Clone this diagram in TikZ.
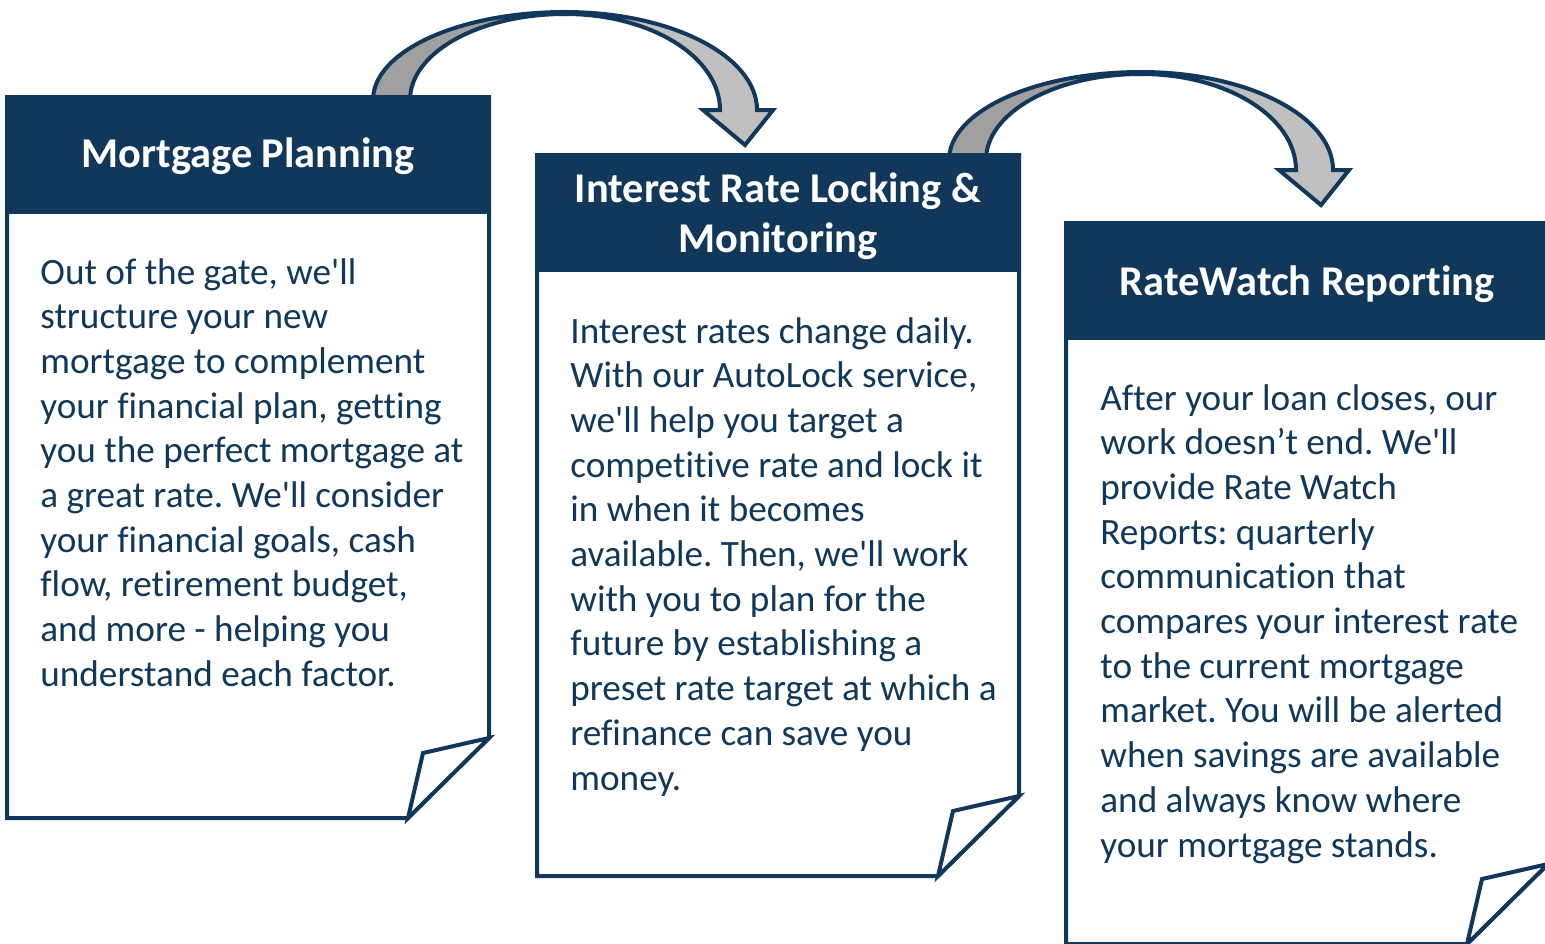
\documentclass[tikz,border=0pt]{standalone}
\usepackage{fontspec}
\newfontfamily\carl{Carlito}[Ligatures={NoCommon,NoRare,NoDiscretionary,NoContextual}]
\frenchspacing
\definecolor{navy}{RGB}{17,56,90}
\definecolor{darkband}{RGB}{160,160,160}
\definecolor{lightband}{RGB}{192,192,192}
\tikzset{
  outline/.style={draw=navy, line width=2pt, line join=miter},
  bodytext/.style={anchor=base west, inner sep=0pt, text=navy, font=\carl\fontsize{18.6}{22.35}\selectfont},
  headtext/.style={anchor=base, inner sep=0pt, text=white, font=\carl\bfseries\fontsize{21.2}{25}\selectfont},
}
\newcommand\paperbox[3]{%
  \begin{scope}[shift={(#2,#3)}]
    \path[outline, fill=white] (0,0) -- (482,0) -- (482,641) -- (401,721) -- (0,721) -- cycle;
    \path[outline, fill=white] (401,721) -- (416,656) -- (482,641) -- cycle;
    \path[outline, fill=navy] (0,0) rectangle (482,115);
    \coordinate (#1) at (0,0);
  \end{scope}}
\newcommand\bentarrow[3]{%
  \begin{scope}[shift={(#2,#3)}]
    \path[outline, fill=darkband] (373,106) -- (373,100) .. controls (373,51.4) and (459,12) .. (565,12)
      -- (565,14) .. controls (479.4,14) and (410,52.5) .. (410,100) -- (410,106) -- cycle;
    \path[outline, fill=lightband] (565,12) .. controls (671,12) and (757,56) .. (757,110)
      -- (773,110) -- (745,145) -- (703,110) -- (720,110)
      .. controls (720,57) and (650.6,14) .. (565,14) -- cycle;
    \coordinate (#1) at (745,145);
  \end{scope}}
\begin{document}
\begin{tikzpicture}[x=0.5pt, y=-0.5pt]
\useasboundingbox (0,0) rectangle (1545,943);
\clip (0,0) rectangle (1545,943);
\bentarrow{tipA}{0}{0}
\bentarrow{tipB}{576}{60}
\paperbox{boxA}{7}{97}
\paperbox{boxB}{537}{155}
\paperbox{boxC}{1066}{223}
\node[headtext] (headA) at (248,167) {\parbox[t]{240pt}{\centering Mortgage Planning}};
\node[headtext] (headB) at (778,202) {\parbox[t]{240pt}{\centering Interest Rate Locking \&\\ Monitoring}};
\node[headtext] (headC) at (1307,295) {\parbox[t]{240pt}{\centering RateWatch Reporting}};
\node[bodytext] (textA) at (40,284) {\parbox[t]{235pt}{\raggedright
Out of the gate, we'll\\
structure your new\\
mortgage to complement\\
your financial plan, getting\\
you the perfect mortgage at\\
a great rate. We'll consider\\
your financial goals, cash\\
flow, retirement budget,\\
and more - helping you\\
understand each factor.}};
\node[bodytext] (textB) at (570,343) {\parbox[t]{235pt}{\raggedright
Interest rates change daily.\\
With our AutoLock service,\\
we'll help you target a\\
competitive rate and lock it\\
in when it becomes\\
available. Then, we'll work\\
with you to plan for the\\
future by establishing a\\
preset rate target at which a\\
refinance can save you\\
money.}};
\node[bodytext] (textC) at (1100,410) {\parbox[t]{235pt}{\raggedright
After your loan closes, our\\
work doesn’t end. We'll\\
provide Rate Watch\\
Reports: quarterly\\
communication that\\
compares your interest rate\\
to the current mortgage\\
market. You will be alerted\\
when savings are available\\
and always know where\\
your mortgage stands.}};
\end{tikzpicture}
\end{document}
